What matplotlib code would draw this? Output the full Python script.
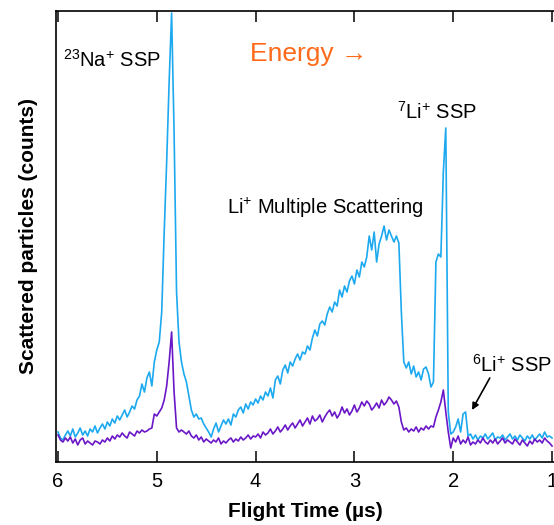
import numpy as np
import matplotlib
matplotlib.use("Agg")
import matplotlib.pyplot as plt

plt.rcParams['font.family'] = ['Liberation Sans', 'DejaVu Sans']
plt.rcParams['mathtext.default'] = 'regular'

# time-of-flight bins (µs), 0.025 µs channel width
flight_time = np.linspace(6.0, 1.0, 201)

# light blue spectrum (counts, arbitrary units)
counts_blue = [
    30, 24, 22, 27, 31, 26, 33, 25, 29, 34,
    27, 31, 26, 33, 30, 36, 29, 34, 38, 33,
    40, 36, 43, 39, 46, 42, 47, 52, 45, 50,
    56, 53, 62, 66, 78, 70, 84, 90, 76, 100,
    112, 120, 150, 230, 300, 380, 449, 330, 170, 120,
    100, 88, 80, 66, 52, 45, 48, 43, 44, 38,
    34, 30, 25, 33, 39, 30, 36, 42, 38, 43,
    37, 48, 45, 52, 55, 49, 58, 53, 60, 57,
    63, 59, 66, 62, 70, 66, 74, 64, 82, 86,
    78, 92, 97, 89, 100, 96, 103, 108, 102, 110,
    108, 116, 112, 124, 132, 126, 138, 141, 137, 148,
    155, 150, 160, 156, 172, 165, 176, 170, 181, 186,
    178, 192, 185, 200, 195, 205, 226, 212, 230, 200,
    218, 226, 236, 222, 232, 226, 220, 226, 219, 150,
    100, 94, 100, 88, 96, 85, 90, 82, 93, 95,
    88, 75, 80, 200, 208, 205, 290, 334, 50, 28,
    30, 35, 43, 30, 48, 50, 26, 28, 23, 27,
    22, 26, 24, 28, 23, 26, 29, 22, 25, 24,
    27, 22, 25, 28, 23, 26, 22, 27, 24, 21,
    26, 23, 27, 22, 25, 28, 24, 30, 25, 26,
    24,
]

# purple spectrum (counts, arbitrary units)
counts_purple = [
    27, 22, 20, 24, 21, 25, 19, 23, 17, 22,
    24, 18, 21, 19, 17, 21, 20, 18, 22, 20,
    24, 21, 26, 23, 27, 25, 29, 26, 24, 30,
    28, 26, 31, 29, 32, 30, 31, 33, 34, 48,
    46, 50, 54, 62, 76, 100, 130, 70, 34, 30,
    32, 30, 28, 31, 26, 24, 27, 22, 25, 20,
    23, 21, 19, 22, 20, 24, 18, 21, 19, 22,
    24, 20, 23, 21, 25, 22, 24, 27, 23, 26,
    25, 28, 24, 30, 27, 29, 33, 28, 31, 35,
    30, 33, 37, 32, 36, 39, 34, 38, 42, 36,
    40, 44, 38, 46, 41, 43, 47, 40, 45, 49,
    52, 46, 50, 44, 48, 55, 49, 53, 47, 51,
    57, 50, 54, 60, 56, 61, 58, 52, 55, 59,
    54, 62, 57, 60, 65, 62, 58, 61, 55, 40,
    32, 34, 30, 33, 31, 35, 30, 34, 32, 36,
    33, 36, 35, 45, 52, 60, 72, 50, 30, 14,
    24, 20, 26, 18, 22, 19, 25, 17, 20, 18,
    22, 19, 24, 20, 18, 22, 19, 23, 18, 21,
    24, 19, 22, 20, 18, 23, 20, 17, 22, 19,
    16, 21, 18, 23, 20, 22, 19, 24, 21, 19,
    16,
]

xticks = [6, 5, 4, 3, 2, 1]

fig = plt.figure(figsize=(5.54, 5.25), dpi=100)
ax = fig.add_axes([56 / 554, 63 / 525, 1 - 56 / 554, 451 / 525])

ax.plot(flight_time, counts_blue, color='#1CA9F0', lw=1.2)
ax.plot(flight_time, counts_purple, color='#6A17C8', lw=1.2)

ax.set_xlim(6.02, 0.98)
ax.set_ylim(0, 451)
ax.set_xticks(xticks)
ax.set_xticklabels([str(t) for t in xticks])
ax.set_yticks([])
ax.tick_params(axis='x', direction='in', length=8, width=1.1, top=True,
               labelsize=14.5, pad=7)
ax.spines['right'].set_visible(False)
for s in ['left', 'bottom', 'top']:
    ax.spines[s].set_linewidth(1.2)

ax.set_xlabel('Flight Time (µs)', fontsize=15, fontweight='bold', labelpad=8)
ax.set_ylabel('Scattered particles (counts)', fontsize=15, fontweight='bold', labelpad=13)

# annotations
ax.text(5.95, 402, r'$^{23}$Na$^{+}$ SSP', fontsize=14.5, ha='left', va='center')
ax.text(4.06, 408, 'Energy \u2192', fontsize=19, color='#FF6A1A', ha='left', va='center')
ax.text(3.29, 254, r'Li$^{+}$ Multiple Scattering', fontsize=14.5, ha='center', va='center')
ax.text(2.16, 350, r'$^{7}$Li$^{+}$ SSP', fontsize=14.5, ha='center', va='center')
ax.text(1.40, 97, r'$^{6}$Li$^{+}$ SSP', fontsize=14.5, ha='center', va='center')
ax.annotate('', xy=(1.81, 52), xytext=(1.63, 84),
            arrowprops=dict(arrowstyle='-|>', color='black', lw=1.2,
                            mutation_scale=10, shrinkA=0, shrinkB=0))

fig.savefig('out.png', dpi=100)
